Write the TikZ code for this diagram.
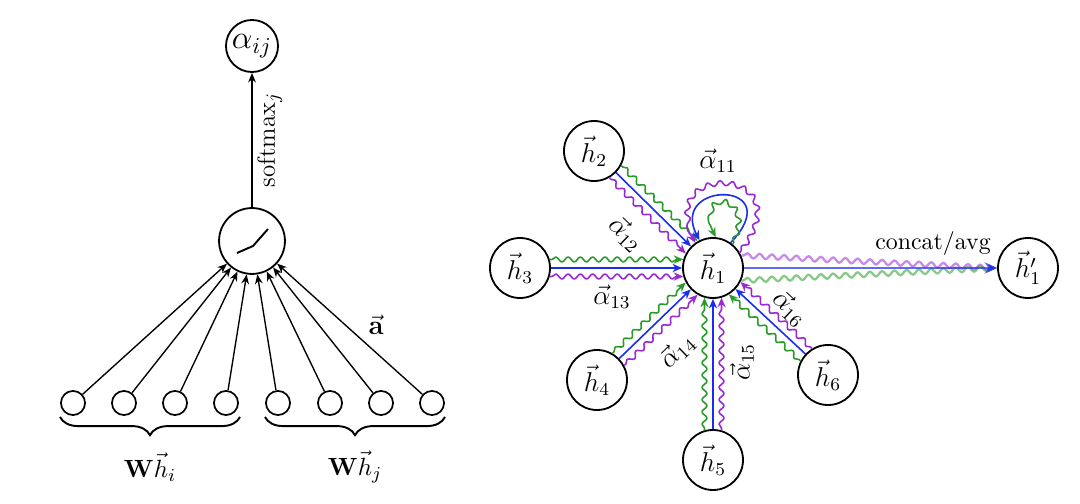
\documentclass[tikz,border=0pt]{standalone}
\usetikzlibrary{arrows.meta,decorations.pathmorphing,decorations.pathreplacing}
\definecolor{gblue}{RGB}{25,45,235}
\definecolor{ggreen}{RGB}{40,155,40}
\definecolor{gpurple}{RGB}{155,40,215}
\begin{document}
\begin{tikzpicture}[x=0.44pt,y=-0.44pt,
  neuron/.style={circle,draw,line width=0.8pt,minimum size=26.4pt,inner sep=0pt},
  smallneuron/.style={circle,draw,line width=0.75pt,minimum size=10.6pt,inner sep=0pt},
  arr/.style={-{Stealth[length=4.2pt,width=3.4pt]},line width=0.6pt},
  tip/.style={-{Stealth[length=4.2pt,width=3.6pt]}},
  wave/.style={decorate,decoration={snake,amplitude=1.1pt,segment length=5.4pt,pre length=1pt,post length=3pt}},
  ebl/.style={tip,gblue,line width=0.7pt},
  egr/.style={tip,ggreen,line width=0.7pt,wave,line join=round},
  epu/.style={tip,gpurple,line width=0.7pt,wave,line join=round},
  lab/.style={inner sep=1pt}]
\useasboundingbox (0,0) rectangle (1080,504);

% ---------- left panel ----------
\node[neuron,minimum size=22.9pt] (aij) at (252,46) {\Large$\alpha_{ij}$};
\node[neuron,minimum size=29pt] (act) at (252,241) {};
\draw[line width=0.85pt] (237,253) -- (253,246) -- (268,229);
\foreach \i/\x in {1/73,2/124,3/175,4/226,5/278,6/330,7/381,8/432}
  \node[smallneuron] (s\i) at (\x,403) {};
\foreach \i in {1,...,8}
  \draw[arr] (s\i) -- (act);
\draw[arr] (act) -- node[midway,sloped,below,lab,yshift=-1pt] {\fontsize{11}{13}\selectfont softmax$_j$} (aij);
\node (avec) at (376,325) {\large$\vec{\mathbf{a}}$};
\draw[decorate,decoration={brace,mirror,amplitude=8pt},line width=0.85pt] (60,417) -- (240,417);
\draw[decorate,decoration={brace,mirror,amplitude=8pt},line width=0.85pt] (265,417) -- (445,417);
\node (whi) at (150,467) {\fontsize{11}{13}\selectfont$\mathbf{W}\vec{h}_i$};
\node (whj) at (355,467) {\fontsize{11}{13}\selectfont$\mathbf{W}\vec{h}_j$};

% ---------- right panel ----------
\node[neuron] (h1) at (713,268) {\large$\vec{h}_1$};
\node[neuron] (h2) at (594,151) {\large$\vec{h}_2$};
\node[neuron] (h3) at (520,268) {\large$\vec{h}_3$};
\node[neuron] (h4) at (597,380) {\large$\vec{h}_4$};
\node[neuron] (h5) at (713,460) {\large$\vec{h}_5$};
\node[neuron] (h6) at (828,375) {\large$\vec{h}_6$};
\node[neuron] (h1p) at (1028,268) {\large$\vec{h}'_1$};

% h2 -> h1
\draw[ebl] (h2) -- (h1);
\draw[egr] (h2.-28) -- (h1.120);
\draw[epu] (h2.-60) -- (h1.152);
% h3 -> h1
\draw[ebl] (h3) -- (h1);
\draw[egr] (h3.16) -- (h1.164);
\draw[epu] (h3.-16) -- (h1.196);
% h4 -> h1
\draw[ebl] (h4) -- (h1);
\draw[egr] (h4.60) -- (h1.208);
\draw[epu] (h4.28) -- (h1.240);
% h5 -> h1
\draw[ebl] (h5) -- (h1);
\draw[egr] (h5.106) -- (h1.254);
\draw[epu] (h5.74) -- (h1.286);
% h6 -> h1
\draw[ebl] (h6) -- (h1);
\draw[egr] (h6.153) -- (h1.301);
\draw[epu] (h6.121) -- (h1.333);
% self loop
\draw[epu] (h1.30) .. controls (805,165) and (645,165) .. (h1.125);
\draw[ebl] (h1.55) .. controls (790,180) and (668,180) .. (h1.116);
\draw[egr] (h1.50) .. controls (755,195) and (690,190) .. (h1.85);
% output
\draw[gpurple,opacity=0.55,line width=1pt,wave,tip] (h1.24) -- (h1p.west);
\draw[ggreen,opacity=0.55,line width=1pt,wave,tip] (h1.-24) -- (h1p.west);
\draw[gblue,opacity=0.7,line width=1.2pt,-{Stealth[length=5.5pt,width=5pt]}] (h1) -- (h1p);
\node (cat) at (933,244) {\fontsize{10.5}{12}\selectfont concat/avg};

% labels
\node (a11) at (718,161) {\large$\vec{\alpha}_{11}$};
\node[rotate=-44] (a12) at (626,234) {\large$\vec{\alpha}_{12}$};
\node (a13) at (612,297) {\large$\vec{\alpha}_{13}$};
\node[rotate=44] (a14) at (677,351) {\large$\vec{\alpha}_{14}$};
\node[rotate=90] (a15) at (742,362) {\large$\vec{\alpha}_{15}$};
\node[rotate=-43] (a16) at (790,308) {\large$\vec{\alpha}_{16}$};
\end{tikzpicture}
\end{document}
